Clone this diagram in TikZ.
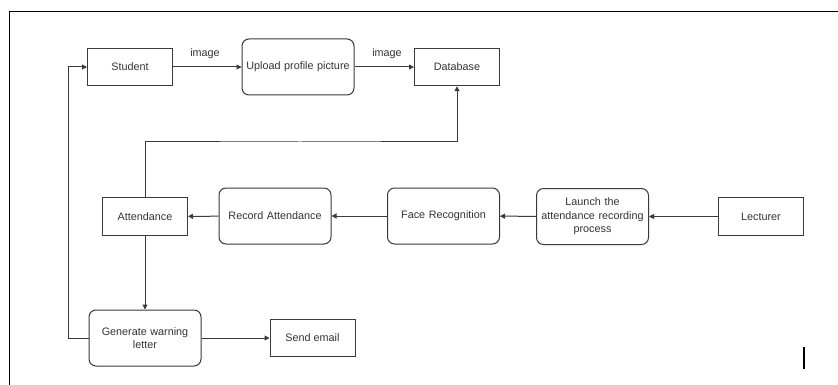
\documentclass[tikz,border=0pt]{standalone}
\usepackage{fontspec}
\setmainfont{Liberation Sans}
\usetikzlibrary{arrows.meta}
\definecolor{txt}{HTML}{333333}
\definecolor{ln}{HTML}{3A3A3A}
\begin{document}
\begin{tikzpicture}[x=1pt,y=-1pt,
  base/.style={draw=ln, line width=1pt, text=txt, font=\fontsize{10.8}{13.7}\selectfont, align=center, inner sep=1pt},
  sqbox/.style={base, minimum width=85pt, minimum height=37.5pt},
  rbox/.style={base, rounded corners=7pt, minimum width=112pt, minimum height=56pt, text width=110pt},
  conn/.style={draw=ln, line width=1pt, -{Triangle[length=5pt,width=5pt]}},
  lbl/.style={text=txt, font=\fontsize{10.8}{13}\selectfont, inner sep=0pt}]
\useasboundingbox (0,0) rectangle (838,385);
\fill[white] (0,0) rectangle (838,385);
% frame and cursor
\draw[line width=0.9pt, black] (9,385) -- (9,11) -- (838,11);
\draw[line width=1.2pt, black] (804,347) -- (804,369);
% nodes
\node[sqbox] (student) at (130,67) {Student};
\node[rbox] (upload) at (298,67) {Upload profile picture};
\node[sqbox] (db) at (457,67) {Database};
\node[sqbox] (att) at (145,216.5) {Attendance};
\node[rbox] (rec) at (275,216) {Record Attendance};
\node[rbox] (face) at (443.5,216) {Face Recognition};
\node[rbox] (launch) at (592.5,216.5) {Launch the\\attendance recording\\process};
\node[sqbox] (lect) at (761,216.5) {Lecturer};
\node[rbox] (gen) at (145,338) {Generate warning\\letter};
\node[sqbox] (mail) at (312.5,338) {Send email};
% labels
\node[lbl] (l1) at (205,54) {image};
\node[lbl] (l2) at (387,54) {image};
% connectors
\draw[conn] (student) -- (upload);
\draw[conn] (upload) -- (db);
\draw[conn] (att.north) |- (300,142) -| (db.south);
\draw[conn] (lect) -- (launch);
\draw[conn] (launch) -- (face);
\draw[conn] (face) -- (rec);
\draw[conn] (rec) -- (att);
\draw[conn] (att) -- (gen);
\draw[conn] (gen) -- (mail);
\draw[conn] (gen.west) -- ++(-20,0) |- (student.west);
\end{tikzpicture}
\end{document}
